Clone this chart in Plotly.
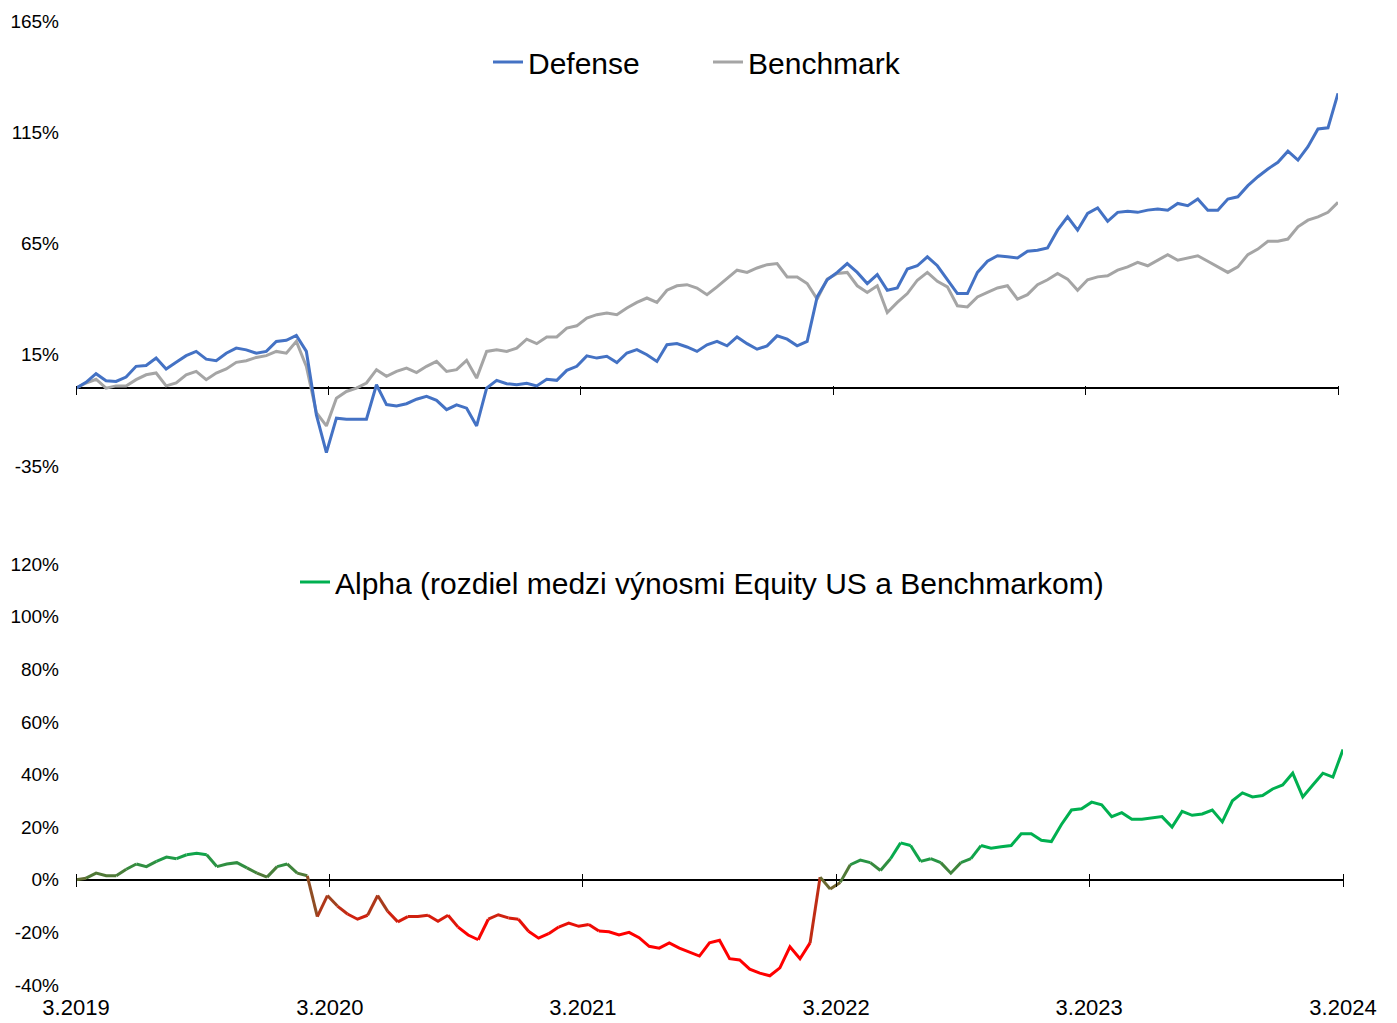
import plotly.graph_objects as go
import pandas as pd

# ---------------- data (roughly every two weeks) ----------------
START, END = "2019-03-01", "2024-03-01"

defense = [0, 2.6, 6.5, 3.3, 3, 5, 9.8, 10.2, 13.5, 8.6,
           11.6, 14.6, 16.5, 13, 12.3, 15.7, 18, 17.2, 15.7, 16.5,
           21, 21.5, 23.7, 16.5, -12, -29, -13.5, -14, -14, -14,
           1.5, -7.4, -8, -7, -5, -3.7, -5.5, -9.7, -7.5, -9,
           -17, 0, 3.5, 2, 1.5, 2.2, 1, 4, 3.5, 8,
           9.8, 14.5, 13.5, 14.3, 11.5, 15.8, 17.3, 15, 12, 19.5,
           20, 18.5, 16.5, 19.5, 21, 19, 23, 20, 17.5, 19,
           23.5, 22, 19, 21, 41, 48.7, 52, 56, 52, 47,
           51, 44, 45, 53.5, 55, 59, 55, 49, 42.5, 42.5,
           52, 57, 59.5, 59, 58.5, 61.5, 62, 63, 71, 77,
           71, 78.5, 81, 75, 79, 79.5, 79, 80, 80.5, 80,
           83, 82, 85, 80, 80, 85, 86, 91, 95, 98.5,
           101.5, 106.5, 102.5, 108.5, 116.5, 117, 132.5]

benchmark = [0, 2.3, 4, 0, 1, 1, 3.8, 6, 6.8, 1,
             2.3, 6, 7.5, 3.8, 6.8, 8.6, 11.6, 12.3, 13.8, 14.6,
             16.5, 15.7, 21, 9.8, -11, -17, -4.5, -1.5, 0, 2.3,
             8.3, 5.3, 7.5, 9, 7, 9.8, 12, 7.5, 8.3, 12.5,
             4.5, 16.5, 17.2, 16.5, 18, 22, 20, 23, 23, 27,
             28, 31.5, 33, 33.7, 33, 36, 38.5, 40.5, 38.5, 44,
             46, 46.5, 45, 42, 45.5, 49.4, 53, 52, 54, 55.5,
             56, 50, 50, 47, 40, 49, 51.5, 52, 46, 43,
             46, 34, 38.5, 42.5, 48.5, 52, 48, 45.5, 37, 36.5,
             41, 43, 45, 46, 40, 42, 46.5, 48.7, 51.5, 49,
             44, 48.7, 50, 50.5, 53, 54.5, 56.5, 55, 57.5, 60,
             57.5, 58.5, 59.5, 57, 54.5, 52, 54.5, 60, 62.5, 66,
             66, 67, 72.5, 75.5, 77, 79, 83.5]

alpha = [0, 0.6, 2.5, 1.5, 1.5, 4, 6, 5, 7, 8.6,
         8, 9.5, 10.1, 9.5, 5, 6, 6.5, 4.5, 2.5, 1,
         5, 6, 2.5, 1.5, -14, -6, -10, -13, -15, -13.5,
         -6, -12, -16, -14, -14, -13.5, -15.8, -13.5, -18, -21,
         -22.8, -15, -13.3, -14.5, -15, -19.6, -22.2, -20.5, -18, -16.5,
         -17.7, -17, -19.5, -19.8, -21, -20, -22, -25.3, -26, -24,
         -26, -27.5, -29, -24, -23, -30, -30.5, -34, -35.5, -36.5,
         -33.5, -25.5, -30, -24, 1, -3.5, -1, 5.7, 7.5, 6.5,
         3.5, 8, 14, 13, 7, 8, 6.5, 2.5, 6.5, 8,
         13, 12, 12.5, 13, 17.5, 17.5, 15, 14.5, 21, 26.5,
         27, 29.5, 28.5, 24, 25.5, 23, 23, 23.5, 24, 20,
         26, 24.5, 25, 26.5, 22, 30, 33, 31.5, 32, 34.5,
         36, 40.5, 31.5, 36, 40.5, 39, 49.5]

year_ticks = ["2019-03-01", "2020-03-01", "2021-03-01", "2022-03-01", "2023-03-01", "2024-03-01"]
year_labels = ["3.2019", "3.2020", "3.2021", "3.2022", "3.2023", "3.2024"]

top_ticks = [-35, 15, 65, 115, 165]
top_labels = ["-35%", "15%", "65%", "115%", "165%"]
bot_ticks = [-40, -20, 0, 20, 40, 60, 80, 100, 120]
bot_labels = ["-40%", "-20%", "0%", "20%", "40%", "60%", "80%", "100%", "120%"]

dates = pd.date_range(START, END, periods=len(defense))

# ---------------- styling ----------------
BLUE = "#4472C4"
GREY = "#A5A5A5"
RED = (255, 0, 0)
GREEN = (0, 176, 80)
LO, HI, LEVELS = -20.0, 12.0, 32
FONT = "Liberation Sans, Arial, sans-serif"

OFF = 8                      # default body margin of the html page
W, H = 1397 - OFF, 1023 - OFF
ML, MT = 76 - OFF, 21 - OFF
MR = W - (1343 - OFF)
MB = H - (985 - OFF)
PW = W - ML - MR
PH = H - MT - MB


def paper_y(page_px):
    return 1 - (page_px - OFF - MT) / PH


def paper_x(page_px):
    return (page_px - OFF - ML) / PW


TOP_DOM = [paper_y(466), 1.0]
BOT_DOM = [0.0, paper_y(564)]
TOP_RANGE = [-35, 165]
BOT_RANGE = [-40, 120]


def zero_page_px(dom, rng):
    top = OFF + MT + (1 - dom[1]) * PH
    height = (dom[1] - dom[0]) * PH
    return top + rng[1] / (rng[1] - rng[0]) * height


def level_of(v):
    t = min(max((v - LO) / (HI - LO), 0.0), 1.0)
    return round(t * LEVELS)


def color_of(level):
    t = level / LEVELS
    r, g, b = (round(RED[k] + (GREEN[k] - RED[k]) * t) for k in range(3))
    return f"rgb({r},{g},{b})"


fig = go.Figure()

# top chart
fig.add_trace(go.Scatter(x=dates, y=benchmark, name="Benchmark", mode="lines",
                         line=dict(color=GREY, width=3), legend="legend", legendrank=2,
                         xaxis="x", yaxis="y", hoverinfo="skip"))
fig.add_trace(go.Scatter(x=dates, y=defense, name="Defense", mode="lines",
                         line=dict(color=BLUE, width=3), legend="legend", legendrank=1,
                         xaxis="x", yaxis="y", hoverinfo="skip"))

# bottom chart: gradient-coloured alpha line, split into runs of equal colour
seg_levels = [level_of((alpha[i] + alpha[i + 1]) / 2) for i in range(len(alpha) - 1)]
s = 0
while s < len(seg_levels):
    e = s
    while e + 1 < len(seg_levels) and seg_levels[e + 1] == seg_levels[s]:
        e += 1
    fig.add_trace(go.Scatter(x=dates[s:e + 2], y=alpha[s:e + 2], mode="lines",
                             line=dict(color=color_of(seg_levels[s]), width=3),
                             showlegend=False, xaxis="x2", yaxis="y2", hoverinfo="skip"))
    s = e + 1

fig.add_trace(go.Scatter(x=[None], y=[None], mode="lines",
                         name="Alpha (rozdiel medzi výnosmi Equity US a Benchmarkom)",
                         line=dict(color="#00B050", width=3), legend="legend2",
                         xaxis="x2", yaxis="y2"))
# helper so the tick-only axis is rendered
fig.add_trace(go.Scatter(x=[dates[0]], y=[None], mode="lines", showlegend=False,
                         xaxis="x3", yaxis="y2", hoverinfo="skip"))

top_zero = zero_page_px(TOP_DOM, TOP_RANGE)
bot_zero = zero_page_px(BOT_DOM, BOT_RANGE)

common_x = dict(type="date", range=[START, END], showgrid=False, zeroline=False,
                tickvals=year_ticks, ticktext=year_labels, automargin=False)
common_y = dict(showgrid=False, showline=False, ticks="", zeroline=True,
                zerolinecolor="black", zerolinewidth=1.5, automargin=False,
                tickfont=dict(size=19, family=FONT, color="black"),
                ticklabelstandoff=16)

fig.update_layout(
    width=W, height=H,
    margin=dict(l=ML, r=MR, t=MT, b=MB, autoexpand=False),
    paper_bgcolor="white", plot_bgcolor="white",
    font=dict(family=FONT, color="black"),
    xaxis=dict(**common_x, domain=[0, paper_x(1338)],
               anchor="free", position=paper_y(top_zero - 3), showline=False,
               showticklabels=False, ticks="outside", ticklen=9, tickwidth=1,
               tickcolor="black"),
    yaxis=dict(**common_y, domain=TOP_DOM, range=TOP_RANGE,
               tickvals=top_ticks, ticktext=top_labels, anchor="x"),
    xaxis2=dict(**common_x, domain=[0, 1], anchor="y2", showline=False,
                ticks="outside", ticklen=3, tickcolor="rgba(0,0,0,0)",
                tickfont=dict(size=22, family=FONT, color="black")),
    xaxis3=dict(**common_x, domain=[0, 1], matches="x2", overlaying="x2",
                anchor="free", position=paper_y(bot_zero - 6.5), showline=False,
                showticklabels=False, ticks="outside", ticklen=13, tickwidth=1,
                tickcolor="black"),
    yaxis2=dict(**common_y, domain=BOT_DOM, range=BOT_RANGE,
                tickvals=bot_ticks, ticktext=bot_labels, anchor="x2"),
    legend=dict(orientation="h", x=paper_x(488), xanchor="left",
                y=paper_y(62), yanchor="middle", bgcolor="rgba(0,0,0,0)",
                font=dict(size=30, family=FONT, color="black"),
                itemwidth=30, entrywidth=175, entrywidthmode="pixels",
                traceorder="normal"),
    legend2=dict(orientation="h", x=paper_x(295), xanchor="left",
                 y=paper_y(582), yanchor="middle", bgcolor="rgba(0,0,0,0)",
                 font=dict(size=30, family=FONT, color="black"),
                 itemwidth=30),
    showlegend=True,
)

fig.write_html("out.html")
